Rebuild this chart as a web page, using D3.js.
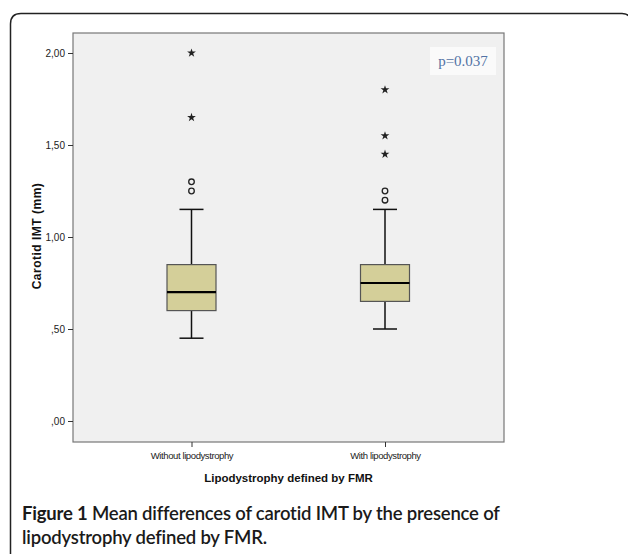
<!DOCTYPE html>
<html>
<head>
<meta charset="utf-8">
<script src="https://cdn.jsdelivr.net/npm/d3@7"></script>
<style>
  body { margin: 0; background: #fff; }
  svg { display: block; }
</style>
</head>
<body>
<div id="chart"></div>
<script>
// data
const groups = ['Without lipodystrophy', 'With lipodystrophy'];
const q1 = [0.60, 0.65];
const medians = [0.70, 0.75];
const q3 = [0.85, 0.85];
const whiskLow = [0.45, 0.50];
const whiskHigh = [1.15, 1.15];
const circleOutliers = [[1.30, 1.25], [1.25, 1.20]];
const starOutliers = [[2.00, 1.65], [1.80, 1.55, 1.45]];
const yTicks = [0, 0.5, 1, 1.5, 2];

const width = 628, height = 554;
const svg = d3.select('#chart').append('svg')
  .attr('width', width)
  .attr('height', height);

// outer frame (cut off at right and bottom)
svg.append('path')
  .attr('d', 'M10.5,560 L10.5,24 Q10.5,13.5 21,13.5 L622,13.5 Q628,13.5 630,18')
  .attr('fill', 'none')
  .attr('stroke', '#222')
  .attr('stroke-width', 1.5);

const plot = { left: 73, right: 504, top: 33, bottom: 442 };

svg.append('rect')
  .attr('x', plot.left).attr('y', plot.top)
  .attr('width', plot.right - plot.left).attr('height', plot.bottom - plot.top)
  .attr('fill', '#f0f0f0')
  .attr('stroke', '#777')
  .attr('stroke-width', 1.2);

const y = d3.scaleLinear().domain([0, 2]).range([421, 53]);
const x = d3.scalePoint().domain(groups).range([191.5, 385]);

// y axis
const yAxis = svg.append('g')
  .attr('transform', `translate(${plot.left},0)`)
  .call(d3.axisLeft(y).tickValues(yTicks).tickSize(5).tickPadding(3)
    .tickFormat(d => d3.format('.2f')(d).replace('.', ',').replace(/^0/, '')));
yAxis.select('.domain').remove();
yAxis.selectAll('line').attr('stroke', '#333');
yAxis.selectAll('text')
  .attr('font-family', 'Liberation Sans, Arial, sans-serif')
  .attr('font-size', 10)
  .attr('fill', '#222');

// x axis
const xAxis = svg.append('g')
  .attr('transform', `translate(0,${plot.bottom})`)
  .call(d3.axisBottom(x).tickSize(5).tickPadding(5));
xAxis.select('.domain').remove();
xAxis.selectAll('line').attr('stroke', '#333');
xAxis.selectAll('text')
  .attr('font-family', 'Liberation Sans, Arial, sans-serif')
  .attr('font-size', 9.5)
  .attr('letter-spacing', -0.4)
  .attr('fill', '#222');

// boxes
const boxW = 49, capW = 24;
groups.forEach((g, i) => {
  const cx = x(g);
  const grp = svg.append('g');
  grp.append('line')
    .attr('x1', cx).attr('x2', cx)
    .attr('y1', y(whiskHigh[i])).attr('y2', y(whiskLow[i]))
    .attr('stroke', '#111').attr('stroke-width', 1.5);
  [whiskHigh[i], whiskLow[i]].forEach(v => {
    grp.append('line')
      .attr('x1', cx - capW / 2).attr('x2', cx + capW / 2)
      .attr('y1', y(v)).attr('y2', y(v))
      .attr('stroke', '#111').attr('stroke-width', 1.5);
  });
  grp.append('rect')
    .attr('x', cx - boxW / 2).attr('y', y(q3[i]))
    .attr('width', boxW).attr('height', y(q1[i]) - y(q3[i]))
    .attr('fill', '#d4cf99')
    .attr('stroke', '#555').attr('stroke-width', 1.2);
  grp.append('line')
    .attr('x1', cx - boxW / 2).attr('x2', cx + boxW / 2)
    .attr('y1', y(medians[i])).attr('y2', y(medians[i]))
    .attr('stroke', '#000').attr('stroke-width', 2.2);

  circleOutliers[i].forEach(v => {
    grp.append('circle')
      .attr('cx', cx).attr('cy', y(v)).attr('r', 2.8)
      .attr('fill', 'none').attr('stroke', '#222').attr('stroke-width', 1.3);
  });
  starOutliers[i].forEach(v => {
    grp.append('path')
      .attr('d', d3.symbol().type(d3.symbolStar).size(24)())
      .attr('transform', `translate(${cx},${y(v)})`)
      .attr('fill', '#222');
  });
});

// p value box
svg.append('rect')
  .attr('x', 430).attr('y', 47).attr('width', 66).attr('height', 28)
  .attr('fill', '#fafafa');
svg.append('text')
  .attr('x', 463).attr('y', 66)
  .attr('text-anchor', 'middle')
  .attr('font-family', 'Liberation Serif, Times New Roman, serif')
  .attr('font-size', 15)
  .attr('fill', '#5272a5')
  .text('p=0.037');

// axis titles
svg.append('text')
  .attr('transform', `translate(41,236) rotate(-90)`)
  .attr('text-anchor', 'middle')
  .attr('font-family', 'Liberation Sans, Arial, sans-serif')
  .attr('font-weight', 'bold')
  .attr('font-size', 12)
  .attr('letter-spacing', 0.5)
  .attr('fill', '#111')
  .text('Carotid IMT (mm)');

svg.append('text')
  .attr('x', 288.5).attr('y', 482)
  .attr('text-anchor', 'middle')
  .attr('font-family', 'Liberation Sans, Arial, sans-serif')
  .attr('font-weight', 'bold')
  .attr('font-size', 11.5)
  .attr('fill', '#111')
  .text('Lipodystrophy defined by FMR');

// caption
const cap = svg.append('g')
  .attr('font-family', 'Lato, sans-serif')
  .attr('font-size', 18.5)
  .attr('letter-spacing', -0.2)
  .attr('fill', '#1a1a1a');
const line1 = cap.append('text').attr('x', 22).attr('y', 520);
line1.append('tspan').attr('font-weight', 'bold').text('Figure 1');
line1.append('tspan').attr('font-weight', 600).text(' Mean differences of carotid IMT by the presence of');
cap.append('text').attr('x', 22).attr('y', 544).attr('font-weight', 600)
  .text('lipodystrophy defined by FMR.');
</script>
</body>
</html>
